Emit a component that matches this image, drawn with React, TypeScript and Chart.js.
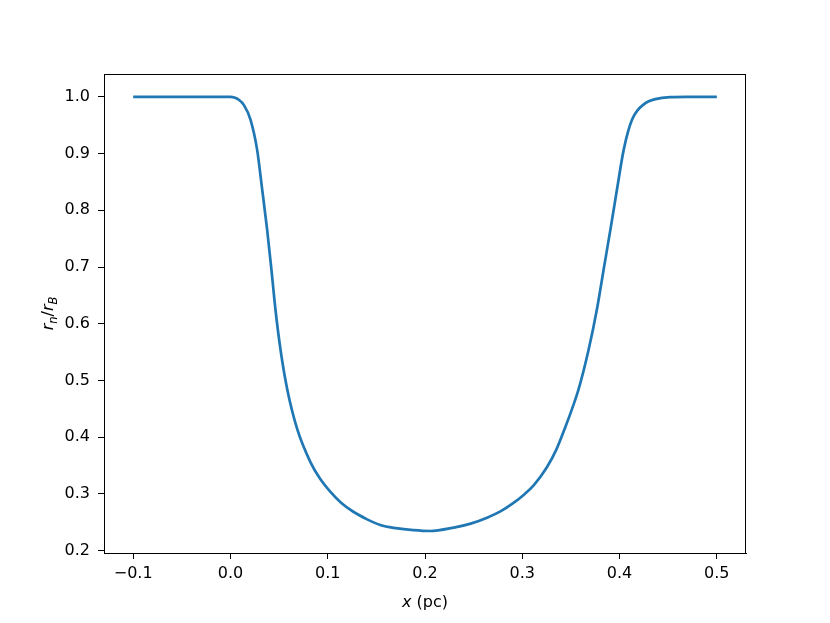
import React, { useEffect, useRef } from "react";
import { Chart, registerables } from "chart.js";

Chart.register(...registerables);

const xValues = [-0.1, -0.05, 0.0, 0.004, 0.0086, 0.0137, 0.0206, 0.0274, 0.0326, 0.0377, 0.0421, 0.0462, 0.0514, 0.0583, 0.0685, 0.0822, 0.092, 0.1028, 0.114, 0.1267, 0.14, 0.154, 0.17, 0.188, 0.205, 0.2296, 0.247, 0.2638, 0.278, 0.291, 0.302, 0.3117, 0.3253, 0.335, 0.3443, 0.351, 0.358, 0.3683, 0.3768, 0.3837, 0.3906, 0.3974, 0.4043, 0.4129, 0.4265, 0.4368, 0.452, 0.47, 0.5];
const yValues = [1.0, 1.0, 1.0, 0.999, 0.995, 0.986, 0.96, 0.907, 0.837, 0.766, 0.696, 0.626, 0.555, 0.485, 0.415, 0.356, 0.327, 0.3035, 0.284, 0.268, 0.2555, 0.245, 0.2395, 0.236, 0.2345, 0.2405, 0.2475, 0.258, 0.2695, 0.284, 0.299, 0.315, 0.347, 0.378, 0.418, 0.449, 0.485, 0.555, 0.626, 0.696, 0.766, 0.837, 0.907, 0.96, 0.989, 0.996, 0.9995, 1.0, 1.0];

const xTickValues = [-0.1, 0.0, 0.1, 0.2, 0.3, 0.4, 0.5];
const xTickLabels = ["\u22120.1", "0.0", "0.1", "0.2", "0.3", "0.4", "0.5"];
const yTickValues = [0.2, 0.3, 0.4, 0.5, 0.6, 0.7, 0.8, 0.9, 1.0];
const yTickLabels = ["0.2", "0.3", "0.4", "0.5", "0.6", "0.7", "0.8", "0.9", "1.0"];

const FONT = "DejaVu Sans";
const FS = 16;

const framePlugin = {
  id: "frameAndLabels",
  afterDraw(chart: any) {
    const { ctx, chartArea } = chart;
    ctx.save();
    ctx.strokeStyle = "#000";
    ctx.lineWidth = 1;
    ctx.strokeRect(chartArea.left + 0.5, chartArea.top + 0.5, chartArea.right - chartArea.left - 1, chartArea.bottom - chartArea.top);

    // x label
    ctx.fillStyle = "#000";
    ctx.textBaseline = "alphabetic";
    const cx = (chartArea.left + chartArea.right) / 2;
    ctx.font = `italic ${FS}px '${FONT}'`;
    const w1 = ctx.measureText("x").width;
    ctx.font = `${FS}px '${FONT}'`;
    const w2 = ctx.measureText(" (pc)").width;
    const sx = cx - (w1 + w2) / 2;
    const by = 607;
    ctx.font = `italic ${FS}px '${FONT}'`;
    ctx.fillText("x", sx, by);
    ctx.font = `${FS}px '${FONT}'`;
    ctx.fillText(" (pc)", sx + w1, by);

    // y label
    const cy = (chartArea.top + chartArea.bottom) / 2;
    ctx.translate(53, cy);
    ctx.rotate(-Math.PI / 2);
    const SUB = 11.5;
    const parts = [
      { t: "r", font: `italic ${FS}px '${FONT}'`, dy: 0 },
      { t: "n", font: `italic ${SUB}px '${FONT}'`, dy: 4 },
      { t: "/", font: `${FS}px '${FONT}'`, dy: 0 },
      { t: "r", font: `italic ${FS}px '${FONT}'`, dy: 0 },
      { t: "B", font: `italic ${SUB}px '${FONT}'`, dy: 4 },
    ];
    let total = 0;
    const widths = parts.map((p) => {
      ctx.font = p.font;
      const w = ctx.measureText(p.t).width;
      total += w;
      return w;
    });
    let px = -total / 2;
    parts.forEach((p, i) => {
      ctx.font = p.font;
      ctx.fillText(p.t, px, p.dy);
      px += widths[i];
    });
    ctx.restore();
  },
};

export default function App() {
  const ref = useRef<HTMLCanvasElement | null>(null);
  useEffect(() => {
    if (!ref.current) return;
    const data = xValues.map((x, i) => ({ x, y: yValues[i] }));
    const chart = new Chart(ref.current, {
      type: "line",
      data: {
        datasets: [
          {
            data,
            borderColor: "#1f77b4",
            borderWidth: 2.7,
            pointRadius: 0,
            fill: false,
            cubicInterpolationMode: "monotone",
          },
        ],
      },
      options: {
        animation: false,
        responsive: false,
        devicePixelRatio: 1,
        layout: { padding: { left: 0, top: 74, right: 84, bottom: 0 } },
        plugins: { legend: { display: false }, tooltip: { enabled: false } },
        scales: {
          x: {
            type: "linear",
            min: -0.13,
            max: 0.53,
            afterFit(scale: any) {
              scale.height = 70;
            },
            afterBuildTicks(scale: any) {
              scale.ticks = xTickValues.map((v) => ({ value: v }));
            },
            grid: { drawOnChartArea: false, color: "#000", tickLength: 6, tickWidth: 1 },
            border: { display: true, color: "#000", width: 1 },
            ticks: {
              color: "#000",
              font: { family: FONT, size: FS },
              padding: 5,
              maxRotation: 0,
              callback: (v: any) => {
                const i = xTickValues.findIndex((t) => Math.abs(t - v) < 1e-9);
                return i >= 0 ? xTickLabels[i] : "";
              },
            },
          },
          y: {
            type: "linear",
            min: 0.1957,
            max: 1.0404,
            afterFit(scale: any) {
              scale.width = 104;
            },
            afterBuildTicks(scale: any) {
              scale.ticks = yTickValues.map((v) => ({ value: v }));
            },
            grid: { drawOnChartArea: false, color: "#000", tickLength: 6, tickWidth: 1 },
            border: { display: true, color: "#000", width: 1 },
            ticks: {
              color: "#000",
              font: { family: FONT, size: FS },
              padding: 8,
              callback: (v: any) => {
                const i = yTickValues.findIndex((t) => Math.abs(t - v) < 1e-9);
                return i >= 0 ? yTickLabels[i] : "";
              },
            },
          },
        },
      },
      plugins: [framePlugin],
    } as any);
    return () => chart.destroy();
  }, []);
  return (
    <div style={{ position: "absolute", left: 0, top: 0, width: 830, height: 623, background: "#fff" }}>
      <canvas ref={ref} width={830} height={623} style={{ width: 830, height: 623, display: "block" }} />
    </div>
  );
}
